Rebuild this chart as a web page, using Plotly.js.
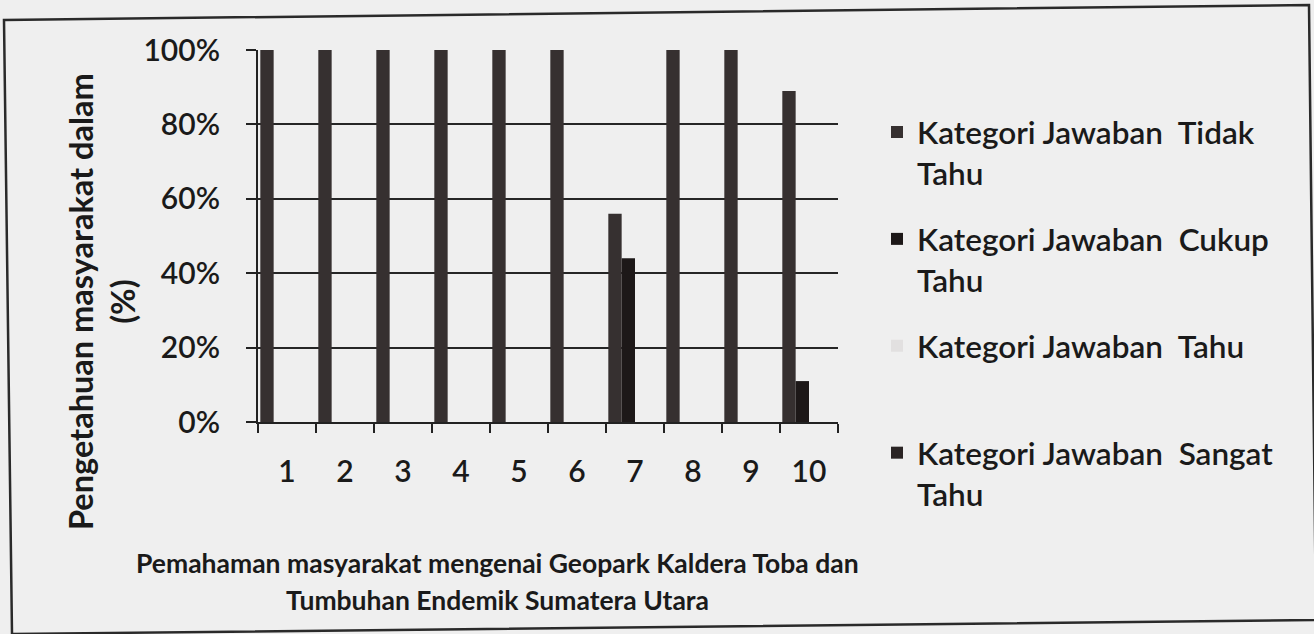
<!DOCTYPE html>
<html>
<head>
<meta charset="utf-8">
<script src="https://cdn.plot.ly/plotly-3.0.1.min.js"></script>
<style>
  html, body { margin: 0; padding: 0; background: #efefef; }
  #chart { width: 1314px; height: 634px; }
</style>
</head>
<body>
<div id="chart"></div>
<script>
// ---- data ----
const categories = ['1', '2', '3', '4', '5', '6', '7', '8', '9', '10'];
const tidakTahu  = [100, 100, 100, 100, 100, 100, 56, 100, 100, 89];
const cukupTahu  = [0, 0, 0, 0, 0, 0, 44, 0, 0, 11];
const tahu       = [0, 0, 0, 0, 0, 0, 0, 0, 0, 0];
const sangatTahu = [0, 0, 0, 0, 0, 0, 0, 0, 0, 0];
const seriesNames = [
  'Kategori Jawaban&nbsp; Tidak<br>Tahu',
  'Kategori Jawaban&nbsp; Cukup<br>Tahu',
  'Kategori Jawaban&nbsp; Tahu<br>&nbsp;',
  'Kategori Jawaban&nbsp; Sangat<br>Tahu'
];
const yTicks = [0, 20, 40, 60, 80, 100];
const yTitle = 'Pengetahuan masyarakat dalam<br>(%)';
const xTitleLines = [
  'Pemahaman masyarakat mengenai Geopark Kaldera Toba dan',
  'Tumbuhan Endemik Sumatera Utara'
];

// ---- layout geometry ----
const W = 1314, H = 634;
const M = { l: 258, r: 476, t: 50, b: 212 };
const PW = W - M.l - M.r, PH = H - M.t - M.b;
const px = x => (x - M.l) / PW;
const py = y => (H - M.b - y) / PH;

const FONT = 'Lato, "Open Sans", sans-serif';
const INK = '#1a1a1a';
const colors = ['#363030', '#1d1818', '#e2e0e0', '#2a2424'];

const allSeries = [tidakTahu, cukupTahu, tahu, sangatTahu];
const traces = allSeries.map((vals, i) => ({
  type: 'bar',
  x: categories,
  y: vals,
  name: seriesNames[i],
  legendgroup: 'g' + i,
  marker: { color: colors[i], line: { width: 0 } },
  hoverinfo: 'skip'
}));

const border = 'M ' + px(4) + ' ' + py(20) +
               ' L ' + px(1309) + ' ' + py(5) +
               ' L ' + px(1316) + ' ' + py(620) +
               ' L ' + px(12) + ' ' + py(634) + ' Z';

const xTitleY = [563, 600];

const layout = {
  width: W, height: H,
  margin: M,
  paper_bgcolor: '#efefef',
  plot_bgcolor: '#efefef',
  font: { family: FONT, color: INK, size: 30 },
  barmode: 'group',
  bargap: 0.08,
  bargroupgap: 0,
  showlegend: true,
  legend: {
    xref: 'container', yref: 'container',
    x: 877 / W, y: 1 - 105 / H,
    xanchor: 'left', yanchor: 'top',
    valign: 'top',
    maxheight: 600,
    bgcolor: 'rgba(0,0,0,0)',
    font: { family: FONT, size: 31.5, color: INK, weight: 600 },
    tracegroupgap: 22,
    itemclick: false
  },
  xaxis: {
    type: 'category',
    showgrid: false,
    zeroline: false,
    showline: true, linecolor: '#222', linewidth: 2,
    ticks: 'outside', ticklen: 9, tickwidth: 2, tickcolor: '#222',
    tickson: 'boundaries',
    ticklabelstandoff: 22,
    tickfont: { family: FONT, size: 30, color: INK, weight: 600 },
    fixedrange: true
  },
  yaxis: {
    range: [0, 100],
    tickvals: yTicks,
    ticktext: yTicks.map(v => v + '%'),
    showgrid: true, gridcolor: '#262626', gridwidth: 2,
    zeroline: false,
    showline: true, linecolor: '#222', linewidth: 2,
    ticks: 'outside', ticklen: 10, tickwidth: 2, tickcolor: '#222',
    ticklabelstandoff: 20,
    tickfont: { family: FONT, size: 30, color: INK, weight: 600 },
    fixedrange: true
  },
  annotations: [
    {
      xref: 'paper', yref: 'paper',
      x: px(101), y: py(302),
      xanchor: 'center', yanchor: 'middle',
      text: yTitle, textangle: -90, showarrow: false,
      font: { family: FONT, size: 32.5, color: INK, weight: 700 }
    }
  ].concat(xTitleLines.map((t, i) => ({
      xref: 'paper', yref: 'paper',
      x: px(497), y: py(xTitleY[i]),
      xanchor: 'center', yanchor: 'middle',
      text: t, showarrow: false,
      font: { family: FONT, size: 26.5, color: INK, weight: 700 }
  }))),
  shapes: [
    {
      type: 'path', xref: 'paper', yref: 'paper',
      path: border,
      line: { color: '#2a2a2a', width: 2.5 },
      fillcolor: 'rgba(0,0,0,0)',
      layer: 'above'
    }
  ]
};

Plotly.newPlot('chart', traces, layout, { displayModeBar: false, staticPlot: true });
</script>
</body>
</html>
